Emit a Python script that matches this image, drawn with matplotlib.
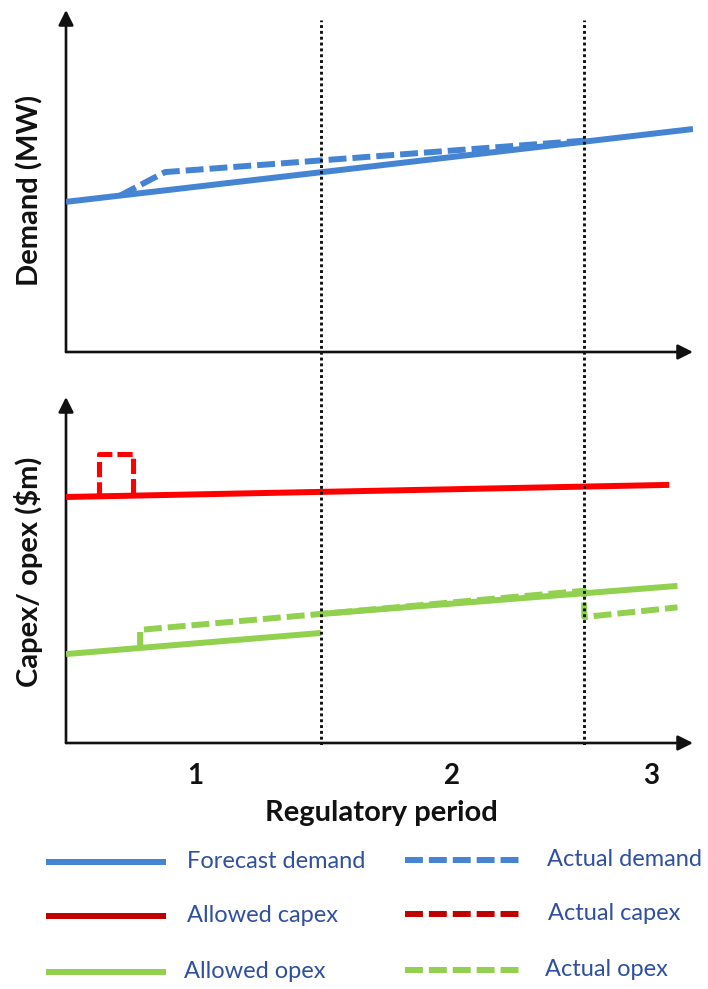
import matplotlib.pyplot as plt
import numpy as np

plt.rcParams.update({
    "font.family": ["Lato", "DejaVu Sans"],
    "figure.dpi": 100,
})

# ─────────────────────────────────────────────
# DATOS (años desde el inicio del periodo 1)
# ─────────────────────────────────────────────

limites_periodo = [4.92, 10.0]
periodos        = ["1", "2", "3"]
x_periodos      = [2.5, 7.45, 11.3]

# demanda (MW, unidades arbitrarias)
dem_prev_x = [0.0, 12.1]
dem_prev_y = [4.39, 6.52]
dem_real_x = [1.04, 1.91, 10.0]
dem_real_y = [4.57, 5.26, 6.18]

# capex / opex ($m, unidades arbitrarias)
capex_perm_x = [0.0, 11.64]
capex_perm_y = [7.11, 7.46]
capex_real_x = [0.64, 0.64, 1.29, 1.29]
capex_real_y = [7.12, 8.35, 8.35, 7.18]

opex_perm1_x = [0.0, 4.92]
opex_perm1_y = [2.57, 3.18]
opex_perm2_x = [4.92, 11.8]
opex_perm2_y = [3.73, 4.54]
opex_real_x  = [1.43, 1.43, 4.92, 10.0, 10.0, 11.8]
opex_real_y  = [2.69, 3.27, 3.73, 4.40, 3.64, 3.92]

AZUL      = "#4584D3"
ROJO      = "#FF0000"
ROJO_OSC  = "#C00000"
VERDE     = "#92D050"
TEXTO_LEY = "#2F50A0"

LW    = 4.3
DASH  = (0, (3, 1))
XMAX  = 12.1

fig = plt.figure(figsize=(7.08, 9.89))
W, H = 708, 989


def caja(x0, y0, x1, y1):
    # convierte una caja en pixeles (origen arriba-izquierda) a fraccion de figura
    return [x0 / W, 1 - y1 / H, (x1 - x0) / W, (y1 - y0) / H]


def ejes_flecha(ax):
    for s in ax.spines.values():
        s.set_visible(False)
    ax.set_xticks([])
    ax.set_yticks([])
    props = dict(arrowstyle="-|>,head_length=0.9,head_width=0.45",
                 color="#111111", lw=1.9, shrinkA=0, shrinkB=0)
    ax.annotate("", xy=(1, 0), xytext=(0, 0), xycoords="axes fraction",
                arrowprops=props, annotation_clip=False)
    ax.annotate("", xy=(0, 1), xytext=(0, 0), xycoords="axes fraction",
                arrowprops=props, annotation_clip=False)


# Panel superior: demanda
ax1 = fig.add_axes(caja(66, 10, 693, 352))
ax1.set_xlim(0, XMAX)
ax1.set_ylim(0, 10)
ax1.patch.set_alpha(0)
ejes_flecha(ax1)
ax1.plot(dem_prev_x, dem_prev_y, color=AZUL, lw=LW, solid_capstyle="butt", zorder=3)
ax1.plot(dem_real_x, dem_real_y, color=AZUL, lw=LW, linestyle=DASH,
         dash_capstyle="butt", zorder=3)

# Panel inferior: capex / opex
ax2 = fig.add_axes(caja(66, 397, 693, 743))
ax2.set_xlim(0, XMAX)
ax2.set_ylim(0, 10)
ax2.patch.set_alpha(0)
ejes_flecha(ax2)
ax2.plot(capex_perm_x, capex_perm_y, color=ROJO, lw=LW, solid_capstyle="butt", zorder=3)
ax2.plot(capex_real_x, capex_real_y, color=ROJO, lw=LW * 0.85, linestyle=DASH,
         dash_capstyle="butt", zorder=3)
ax2.plot(opex_perm1_x, opex_perm1_y, color=VERDE, lw=LW, solid_capstyle="butt", zorder=3)
ax2.plot(opex_perm2_x, opex_perm2_y, color=VERDE, lw=LW, solid_capstyle="butt", zorder=3)
ax2.plot(opex_real_x, opex_real_y, color=VERDE, lw=LW, linestyle=DASH,
         dash_capstyle="butt", zorder=3)

# Lineas punteadas de cambio de periodo (cruzan ambos paneles)
ax_p = fig.add_axes(caja(66, 20, 693, 745))
ax_p.set_xlim(0, XMAX)
ax_p.set_ylim(0, 1)
ax_p.axis("off")
for xl in limites_periodo:
    ax_p.axvline(xl, color="#111111", lw=2.1, linestyle=(0, (1, 1.0)), zorder=1)

# Etiquetas de ejes
fig.text(30 / W, 1 - 190 / H, "Demand (MW)", rotation=90, ha="center", va="center",
         fontsize=21, fontweight="bold", color="#111111")
fig.text(29 / W, 1 - 572 / H, "Capex/ opex ($m)", rotation=90, ha="center", va="center",
         fontsize=21, fontweight="bold", color="#111111")

for xp, lab in zip(x_periodos, periodos):
    ax2.text(xp, -0.95, lab, ha="center", va="center", fontsize=20,
             fontweight="bold", color="#111111", clip_on=False)
fig.text(381 / W, 1 - 813 / H, "Regulatory period", ha="center", va="center",
         fontsize=21, fontweight="bold", color="#111111")

# Leyenda manual
ax_l = fig.add_axes([0, 0, 1, 1])
ax_l.set_xlim(0, W)
ax_l.set_ylim(H, 0)
ax_l.axis("off")

entradas = [
    ("Forecast demand", AZUL, "-", 862, 46, 166, 187),
    ("Actual demand", AZUL, DASH, 860, 405, 522, 547),
    ("Allowed capex", ROJO_OSC, "-", 916, 46, 166, 187),
    ("Actual capex", ROJO_OSC, DASH, 914, 405, 522, 548),
    ("Allowed opex", VERDE, "-", 972, 46, 166, 184),
    ("Actual opex", VERDE, DASH, 970, 405, 522, 545),
]
for texto, col, ls, y, xa, xb, xt in entradas:
    ax_l.plot([xa, xb], [y, y], color=col, lw=LW, linestyle=ls,
              solid_capstyle="butt", dash_capstyle="butt")
    ax_l.text(xt, y, texto, ha="left", va="center", fontsize=17, color=TEXTO_LEY)

fig.savefig("out.png", dpi=100)
